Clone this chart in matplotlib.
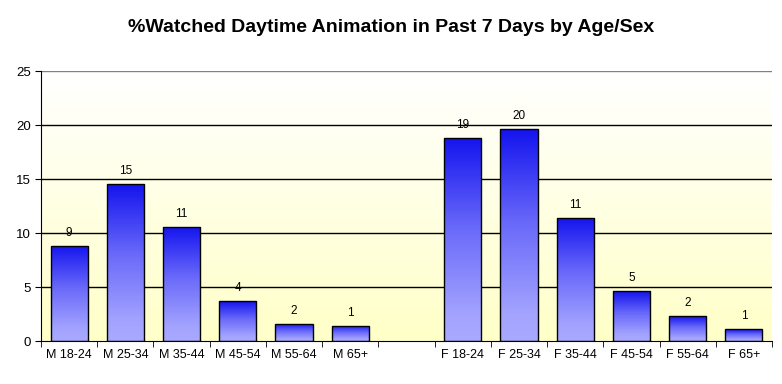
import matplotlib
matplotlib.use('agg')
import matplotlib.pyplot as plt
from matplotlib.colors import LinearSegmentedColormap
import numpy as np

plt.rcParams['font.family'] = ['Liberation Sans', 'DejaVu Sans']

categories = ['M 18-24', 'M 25-34', 'M 35-44', 'M 45-54', 'M 55-64', 'M 65+', '',
              'F 18-24', 'F 25-34', 'F 35-44', 'F 45-54', 'F 55-64', 'F 65+']
values = [8.8, 14.5, 10.6, 3.7, 1.6, 1.4, None,
          18.8, 19.6, 11.4, 4.6, 2.3, 1.1]
labels = ['9', '15', '11', '4', '2', '1', '',
          '19', '20', '11', '5', '2', '1']
yticks = [0, 5, 10, 15, 20, 25]

bar_cmap = LinearSegmentedColormap.from_list(
    'bars', [(0.0, '#a9a9ff'), (0.12, '#a4a4ff'), (0.55, '#6a6afa'), (1.0, '#1414ee')])
bg_cmap = LinearSegmentedColormap.from_list('bg', ['#ffffc8', '#ffffff'])

fig = plt.figure(figsize=(7.82, 3.84), dpi=100)
ax = fig.add_axes([41 / 782, 1 - 341 / 384, 731 / 782, 270 / 384])

x = np.arange(len(categories))
ax.set_xlim(-0.5, len(categories) - 0.5)
ax.set_ylim(0, 25)

grad = np.linspace(0, 1, 256).reshape(-1, 1)
ax.imshow(grad, cmap=bg_cmap, origin='lower', aspect='auto',
          extent=[-0.5, len(categories) - 0.5, 0, 25], zorder=0)

for yv in yticks[1:]:
    ax.axhline(yv, color='#808080' if yv == 25 else 'black', lw=1, zorder=1)

heights = [v if v is not None else 0 for v in values]
bars = ax.bar(x, heights, width=0.66, facecolor='none', edgecolor='black',
              lw=1, zorder=3)
for b, v, lab in zip(bars, values, labels):
    if v is None:
        b.set_visible(False)
        continue
    bx, bw, bh = b.get_x(), b.get_width(), b.get_height()
    im = ax.imshow(grad, cmap=bar_cmap, origin='lower', aspect='auto',
                   extent=[bx, bx + bw, 0, bh], zorder=2)
    im.set_clip_path(b)
    ax.annotate(lab, (bx + bw / 2, bh), xytext=(0, 5), textcoords='offset points',
                ha='center', va='bottom', fontsize=8.5, zorder=4)

ax.set_xticks(x)
ax.set_xticklabels(categories, fontsize=9)
ax.tick_params(axis='x', length=0, pad=6)
ax.set_xticks(np.arange(-0.5, len(categories)), minor=True)
ax.tick_params(axis='x', which='minor', length=4, direction='out', color='black')

ax.set_yticks(yticks)
ax.set_yticklabels([str(t) for t in yticks], fontsize=9.5)
ax.tick_params(axis='y', length=4, direction='out', pad=3)

for s in ['top', 'right']:
    ax.spines[s].set_visible(False)
ax.spines['left'].set_color('black')
ax.spines['bottom'].set_color('black')
ax.spines['left'].set_zorder(5)
ax.spines['bottom'].set_zorder(5)

fig.text(0.5, 1 - 27 / 384, '%Watched Daytime Animation in Past 7 Days by Age/Sex',
         ha='center', va='center', fontsize=14, fontweight='bold')

fig.savefig('out.png', dpi=100)
